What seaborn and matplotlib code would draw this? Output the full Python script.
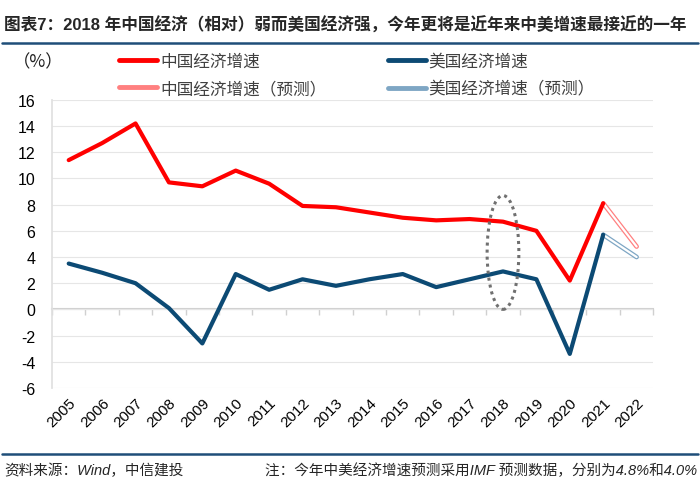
import numpy as np
import pandas as pd
import matplotlib
matplotlib.use("Agg")
import matplotlib.pyplot as plt
import seaborn as sns
from matplotlib.patches import Ellipse
from matplotlib.lines import Line2D

# data
years = [str(y) for y in range(2005, 2023)]
china = [11.4, 12.7, 14.2, 9.7, 9.4, 10.6, 9.6, 7.9, 7.8, 7.4, 7.0, 6.8, 6.9, 6.7, 6.0, 2.2, 8.1]
usa = [3.5, 2.8, 2.0, 0.1, -2.6, 2.7, 1.5, 2.3, 1.8, 2.3, 2.7, 1.7, 2.3, 2.9, 2.3, -3.4, 5.7]
china_fc = [8.1, 4.8]   # 2021 -> 2022 forecast
usa_fc = [5.7, 4.0]
fc_years = ["2021", "2022"]
yticks = list(range(-6, 17, 2))

sns.set_theme(style="white")
plt.rcParams['font.family'] = ['Liberation Sans', 'Noto Sans CJK SC', 'DejaVu Sans']

RED = "#FF0000"
NAVY = "#0C4A74"
LRED = "#FF8080"
LBLUE = "#7EA6C4"

pos = {y: i for i, y in enumerate(years)}
hist = pd.DataFrame({"x": [pos[y] for y in years[:len(china)]], "china": china, "usa": usa})
fc = pd.DataFrame({"x": [pos[y] for y in fc_years], "china": china_fc, "usa": usa_fc})

fig = plt.figure(figsize=(7, 4.85), dpi=100)
ax = fig.add_axes([0.0743, 0.198, 0.859, 0.594])

# forecast segments drawn hollow (outline + white core)
for col, c in [("china", LRED), ("usa", LBLUE)]:
    sns.lineplot(data=fc, x="x", y=col, ax=ax, color=c, lw=3.4, legend=False)
    sns.lineplot(data=fc, x="x", y=col, ax=ax, color="white", lw=1.6, legend=False)

sns.lineplot(data=hist, x="x", y="china", ax=ax, color=RED, lw=3, legend=False)
sns.lineplot(data=hist, x="x", y="usa", ax=ax, color=NAVY, lw=3, legend=False)

ax.set_xlim(-0.5, len(years) - 0.5)
ax.set_ylim(-6, 16)
ax.set_yticks(yticks)
ax.set_yticklabels([str(v) for v in yticks], fontsize=11.5)
ax.set_xticks(range(len(years)))
ax.set_xticklabels(years, rotation=45, ha="right", rotation_mode="anchor", fontsize=11)
ax.tick_params(axis="both", length=0, pad=12, colors="black")
ax.tick_params(axis="x", pad=5)
ax.set_xlabel("")
ax.set_ylabel("")
ax.grid(axis="y", color="#E6E6E6", lw=0.8)
ax.set_axisbelow(True)
for s in ["top", "right", "bottom"]:
    ax.spines[s].set_visible(False)
ax.spines["left"].set_color("#E0E0E0")

# axis line at zero with tick marks between categories
zero = ax.secondary_xaxis(6 / 22)
zero.set_xticks(np.arange(-0.5, len(years), 1))
zero.set_xticklabels([])
zero.tick_params(length=4, width=1, color="#D0D0D0", direction="out")
zero.spines["bottom"].set_color("#D0D0D0")
zero.spines["bottom"].set_linewidth(1.5)

# dotted ellipse around 2018
ax.add_patch(Ellipse((pos["2018"], 4.35), 0.95, 8.7, fill=False, ls=(0, (1, 1.3)),
                     lw=2.2, ec="#707070", zorder=5))

# legend
handles = [
    Line2D([], [], color=RED, lw=3.5),
    Line2D([], [], color=LRED, lw=3.5),
    Line2D([], [], color=NAVY, lw=3.5),
    Line2D([], [], color=LBLUE, lw=3.5),
]
labels = ["中国经济增速", "中国经济增速（预测）", "美国经济增速", "美国经济增速（预测）"]
fig.legend(handles, labels, ncol=2, loc="upper left", bbox_to_anchor=(0.163, 0.90),
           frameon=False, fontsize=12, handlelength=2.3, handletextpad=0.15,
           columnspacing=3.7, labelspacing=0.72, labelcolor="#404040",
           borderaxespad=0, borderpad=0.3)

fig.text(0.018, 0.872, "（%）", fontsize=12.5, va="center", color="#222222",
         family=["Noto Sans CJK SC", "DejaVu Sans"])

# title and footer
fig.text(0.006, 0.948, "图表7：2018 年中国经济（相对）弱而美国经济强，今年更将是近年来中美增速最接近的一年",
         fontsize=12, fontweight="bold", va="center")
fig.add_artist(Line2D([0.003, 0.997], [0.909, 0.909], color="#1F4E79", lw=1.8))
fig.add_artist(Line2D([0.003, 0.997], [0.062, 0.062], color="#1F4E79", lw=1.8))
fig.text(0.006, 0.03, "资料来源：Wind，中信建投", fontsize=10.5, style="italic", va="center")
fig.text(0.996, 0.03, "注：今年中美经济增速预测采用IMF 预测数据，分别为4.8%和4.0%",
         fontsize=10.5, style="italic", va="center", ha="right")

fig.savefig("out.png", dpi=100)
